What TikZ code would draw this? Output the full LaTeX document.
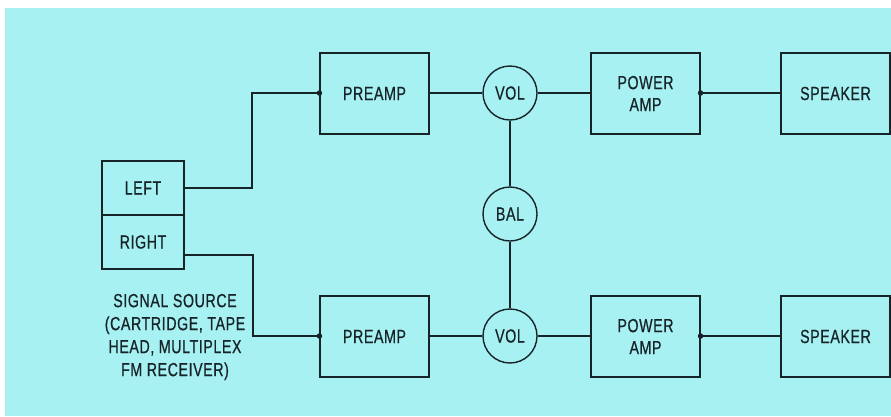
\documentclass[tikz,border=0pt]{standalone}
\usepackage{fontspec}
\setmainfont{Liberation Sans}[FakeStretch=0.75,LetterSpace=3,FakeBold=0.6]
\definecolor{bgcyan}{RGB}{168,241,243}
\definecolor{ink}{RGB}{22,36,40}
\begin{document}
\begin{tikzpicture}[x=1pt,y=-1pt,
  lbl/.style={font=\fontsize{19}{22}\selectfont,text=ink},
  blk/.style={lbl,draw=ink,line width=1.1pt,minimum width=109pt,minimum height=81pt,inner sep=0pt,align=center},
  src/.style={lbl,draw=ink,line width=1.1pt,minimum width=82pt,minimum height=54pt,inner sep=0pt},
  knob/.style={lbl,circle,draw=ink,line width=1.4pt,minimum size=54pt,inner sep=0pt},
  wire/.style={ink,line width=2.2pt},
  jdot/.style={circle,fill=ink,inner sep=0pt,minimum size=5.5pt}]
\useasboundingbox (0,0) rectangle (891,416);
\fill[white] (0,0) rectangle (891,416);
\fill[bgcyan] (5,8) rectangle (891,416);
% source boxes
\node[src] (left) at (143,188) {LEFT};
\node[src] (right) at (143,242) {RIGHT};
\node[lbl,align=center,font=\fontsize{19}{23}\selectfont] (caption) at (175,337) {SIGNAL SOURCE\\(CARTRIDGE, TAPE\\HEAD, MULTIPLEX\\FM RECEIVER)};
% upper row
\node[blk] (pre1) at (374.5,93.5) {PREAMP};
\node[knob] (vol1) at (510,93) {VOL};
\node[blk] (pow1) at (645.5,93.5) {POWER\\AMP};
\node[blk] (spk1) at (835.5,93.5) {SPEAKER};
% lower row
\node[blk] (pre2) at (374.5,336.5) {PREAMP};
\node[knob] (vol2) at (510,336) {VOL};
\node[blk] (pow2) at (645.5,336.5) {POWER\\AMP};
\node[blk] (spk2) at (835.5,336.5) {SPEAKER};
% balance
\node[knob] (bal) at (510,214) {BAL};
% wires
\draw[wire] (left.east |- 0,188) -| (252,93) -- (pre1.west |- 0,93);
\draw[wire] (right.east |- 0,255) -| (253,336) -- (pre2.west |- 0,336);
\draw[wire] (pre1.east |- 0,93) -- (vol1.west);
\draw[wire] (vol1.east) -- (pow1.west |- 0,93);
\draw[wire] (pow1.east |- 0,93) -- (spk1.west |- 0,93);
\draw[wire] (pre2.east |- 0,336) -- (vol2.west);
\draw[wire] (vol2.east) -- (pow2.west |- 0,336);
\draw[wire] (pow2.east |- 0,336) -- (spk2.west |- 0,336);
\draw[wire] (vol1.south) -- (bal.north);
\draw[wire] (bal.south) -- (vol2.north);
% junction dots
\node[jdot] (d1) at (pre1.west |- 0,93) {};
\node[jdot] (d2) at (pre2.west |- 0,336) {};
\node[jdot] (d3) at (pow1.east |- 0,93) {};
\node[jdot] (d4) at (pow2.east |- 0,336) {};
\end{tikzpicture}
\end{document}
